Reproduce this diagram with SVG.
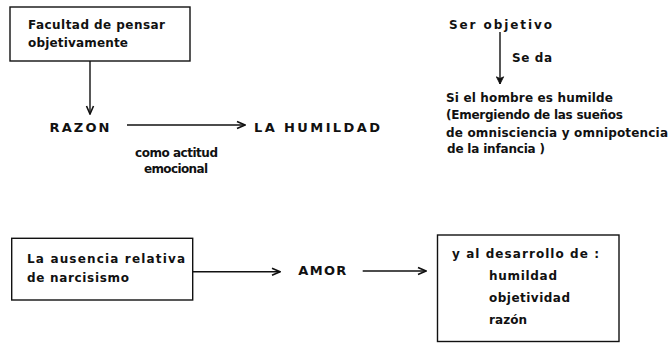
<svg xmlns="http://www.w3.org/2000/svg" width="672" height="343" viewBox="0 0 672 343">
<style>
text{font-family:"DejaVu Sans","Liberation Sans",sans-serif;font-weight:bold;font-size:12px;fill:#111}
.caps{font-size:13px}
.box{fill:none;stroke:#111;stroke-width:1.4}
.ln{fill:none;stroke:#111;stroke-width:1.4}
</style>
<defs>
<marker id="open" viewBox="0 0 10 10" refX="9" refY="5" markerWidth="10" markerHeight="10" markerUnits="userSpaceOnUse" orient="auto">
<path d="M1,1.5 L9,5 L1,8.5" fill="none" stroke="#111" stroke-width="1.6"/>
</marker>
<marker id="solid" viewBox="0 0 10 10" refX="9" refY="5" markerWidth="11" markerHeight="9" markerUnits="userSpaceOnUse" orient="auto">
<path d="M1,1 L9,5 L1,9 L3,5 Z" fill="#111" stroke="#111" stroke-width="1"/>
</marker>
</defs>
<rect width="672" height="343" fill="#fff"/>
<g id="connectors">
<line class="ln" x1="90" y1="61" x2="90" y2="114" marker-end="url(#open)"/>
<line class="ln" x1="127" y1="125" x2="245" y2="125" marker-end="url(#open)"/>
<line class="ln" x1="500" y1="32" x2="500" y2="84" marker-end="url(#solid)"/>
<line class="ln" x1="193" y1="271.7" x2="280" y2="271.7" marker-end="url(#open)"/>
<line class="ln" x1="362.7" y1="271" x2="426" y2="271" marker-end="url(#open)"/>
</g>
<g id="facultad">
<rect class="box" x="10" y="7" width="180" height="54"/>
<text x="28" y="28.5" textLength="137" lengthAdjust="spacing">Facultad de pensar</text>
<text x="28" y="46.7" textLength="100" lengthAdjust="spacing">objetivamente</text>
</g>
<g id="razon">
<text class="caps" x="49.5" y="131.5" textLength="60" lengthAdjust="spacing">RAZON</text>
</g>
<g id="humildad">
<text class="caps" x="254" y="131.5" textLength="126" lengthAdjust="spacing">LA HUMILDAD</text>
</g>
<g id="label-actitud">
<text x="135" y="156.5" textLength="83" lengthAdjust="spacing">como actitud</text>
<text x="144" y="173" textLength="64" lengthAdjust="spacing">emocional</text>
</g>
<g id="ser-objetivo">
<text x="449" y="28.5" textLength="103" lengthAdjust="spacing">Ser objetivo</text>
</g>
<g id="label-seda">
<text x="512" y="62" textLength="40" lengthAdjust="spacing">Se da</text>
</g>
<g id="hombre-humilde">
<text x="446" y="102" textLength="167" lengthAdjust="spacing">Si el hombre es humilde</text>
<text x="446" y="119" textLength="177" lengthAdjust="spacing">(Emergiendo de las sueños</text>
<text x="446" y="136.5" textLength="222" lengthAdjust="spacing">de omnisciencia y omnipotencia</text>
<text x="447" y="153" textLength="98" lengthAdjust="spacing">de la infancia )</text>
</g>
<g id="ausencia">
<rect class="box" x="11.7" y="238.3" width="181" height="61.7"/>
<text x="27" y="263.3" textLength="158" lengthAdjust="spacing">La ausencia relativa</text>
<text x="27" y="281.7" textLength="102" lengthAdjust="spacing">de narcisismo</text>
</g>
<g id="amor">
<text class="caps" x="298.3" y="275" textLength="48" lengthAdjust="spacing">AMOR</text>
</g>
<g id="desarrollo">
<rect class="box" x="437.5" y="235" width="181.5" height="106.5"/>
<text x="452" y="257.7" textLength="147" lengthAdjust="spacing">y al desarrollo de :</text>
<text x="489" y="280" textLength="68" lengthAdjust="spacing">humildad</text>
<text x="489" y="302.3" textLength="81" lengthAdjust="spacing">objetividad</text>
<text x="489" y="324.3" textLength="38" lengthAdjust="spacing">razón</text>
</g>
</svg>
